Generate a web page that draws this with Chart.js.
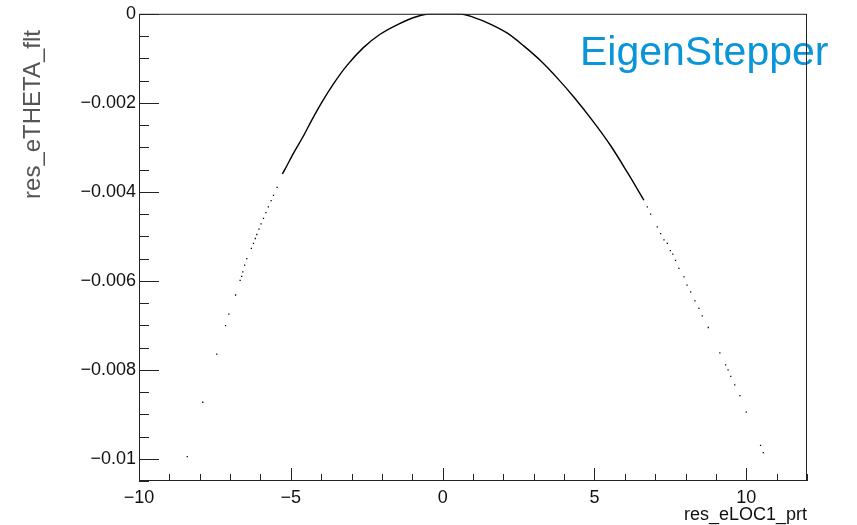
<!DOCTYPE html>
<html>
<head>
<meta charset="utf-8">
<script src="https://cdn.jsdelivr.net/npm/chart.js@4.4.1/dist/chart.umd.min.js"></script>
<style>
  body { margin: 0; background: #fff; }
  canvas { display: block; }
</style>
</head>
<body>
<canvas id="plot" width="857" height="525"></canvas>
<script>
// Continuous part of the band
const curveX = [-5.28, -5.19, -4.91, -4.58, -4.31, -3.98, -3.59, -3.15, -2.61, -2.06, -1.45, -0.84, -0.41,
  0.10, 0.55, 1.02, 1.57, 2.12, 2.67, 3.22, 3.77, 4.32, 4.98, 5.53, 6.08, 6.63];
const curveY = [-0.0036, -0.00349, -0.00313, -0.00274, -0.00239, -0.00199, -0.00157, -0.00116, -0.00076,
  -0.00046, -0.00023, -0.00006, 0, 0, 0, -0.00008, -0.00023, -0.00043, -0.00072, -0.00105, -0.00144,
  -0.00187, -0.00244, -0.00296, -0.00356, -0.00419];

// Isolated points out in the tails
const dotsX = [-8.41, -7.90, -7.44, -7.15, -7.04, -6.82, -6.67, -6.62, -6.58, -6.52, -6.45, -6.30, -6.23,
  -6.17, -6.12, -6.05, -5.98, -5.90, -5.82, -5.74, -5.65, -5.57, -5.45,
  6.74, 6.85, 7.07, 7.18, 7.29, 7.40, 7.50, 7.58, 7.67, 7.78, 7.95, 8.05, 8.17, 8.31, 8.44, 8.55, 8.75,
  9.13, 9.32, 9.40, 9.49, 9.62, 9.79, 10.00, 10.47, 10.56];
const dotsY = [-0.00995, -0.00873, -0.00765, -0.00701, -0.00675, -0.00632, -0.00599, -0.0059, -0.0058,
  -0.00565, -0.0055, -0.00527, -0.00516, -0.00505, -0.00496, -0.00484, -0.00472, -0.0046, -0.00447,
  -0.00434, -0.0042, -0.00408, -0.0039,
  -0.00434, -0.0045, -0.00479, -0.00494, -0.00508, -0.00516, -0.00532, -0.0054, -0.00554, -0.00572,
  -0.00591, -0.0061, -0.00625, -0.00645, -0.00662, -0.00679, -0.00705, -0.00762, -0.00789, -0.008,
  -0.00815, -0.00834, -0.00858, -0.00895, -0.0097, -0.00986];

// Axis ticks
const xMajor = [-10, -5, 0, 5, 10];
const yMajor = [0, -0.002, -0.004, -0.006, -0.008, -0.01];
const xMinorStep = 1;
const yMinorStep = 0.0005;

const labelFont = { family: 'Liberation Sans, Arial, sans-serif', size: 18 };

// draws the ROOT style frame, inward ticks, titles and the stepper label
const rootFrame = {
  id: 'rootFrame',
  beforeDatasetsDraw(chart) {
    const ctx = chart.ctx;
    ctx.save();
    ctx.fillStyle = '#0995d8';
    ctx.font = '41px "Liberation Sans", Arial, sans-serif';
    ctx.textBaseline = 'alphabetic';
    ctx.textAlign = 'left';
    ctx.fillText('EigenStepper', 580, 65);
    ctx.restore();
  },
  afterDatasetsDraw(chart) {
    const { ctx, chartArea: a, scales: { x, y } } = chart;
    ctx.save();
    ctx.strokeStyle = '#222';
    ctx.lineWidth = 1;
    ctx.strokeRect(a.left + 0.5, a.top + 0.5, a.right - a.left - 1, a.bottom - a.top - 1);

    ctx.beginPath();
    // x ticks
    for (let v = x.min; v <= x.max + 1e-9; v += xMinorStep) {
      const px = Math.round(x.getPixelForValue(v)) + 0.5;
      const len = xMajor.includes(Math.round(v)) ? 13 : 7;
      ctx.moveTo(px, a.bottom);
      ctx.lineTo(px, a.bottom - len);
    }
    // y ticks
    for (let i = 0; i * yMinorStep <= -y.min + 1e-9; i++) {
      const v = -i * yMinorStep;
      const py = Math.round(y.getPixelForValue(v)) + 0.5;
      const len = i % 4 === 0 ? 20 : 10;
      ctx.moveTo(a.left, py);
      ctx.lineTo(a.left + len, py);
    }
    ctx.stroke();

    // axis titles
    ctx.fillStyle = '#111';
    ctx.font = '18px "Liberation Sans", Arial, sans-serif';
    ctx.textAlign = 'right';
    ctx.textBaseline = 'alphabetic';
    ctx.fillText('res_eLOC1_prt', a.right, 520);

    ctx.fillStyle = '#555';
    ctx.font = '24px "Liberation Sans", Arial, sans-serif';
    ctx.translate(40, 30);
    ctx.rotate(-Math.PI / 2);
    ctx.textAlign = 'right';
    ctx.fillText('res_eTHETA_flt', 0, 0);
    ctx.restore();
  }
};

const fmt = v => String(v).replace('-', '\u2212');

new Chart(document.getElementById('plot'), {
  type: 'scatter',
  data: {
    datasets: [
      {
        label: 'band',
        data: curveX.map((v, i) => ({ x: v, y: curveY[i] })),
        showLine: true,
        borderColor: '#000',
        borderWidth: 1.4,
        pointRadius: 0,
        cubicInterpolationMode: 'monotone'
      },
      {
        label: 'tails',
        data: dotsX.map((v, i) => ({ x: v, y: dotsY[i] })),
        backgroundColor: '#000',
        borderWidth: 0,
        pointStyle: 'rect',
        pointRadius: 0.9
      }
    ]
  },
  options: {
    responsive: false,
    animation: false,
    layout: { padding: { top: 13, right: 50, left: 0, bottom: 0 } },
    plugins: { legend: { display: false }, tooltip: { enabled: false } },
    scales: {
      x: {
        type: 'linear',
        min: -10,
        max: 12,
        grid: { display: false, drawTicks: false },
        border: { display: false },
        afterBuildTicks: s => { s.ticks = xMajor.map(v => ({ value: v })); },
        afterFit: s => { s.height = 44; },
        ticks: { font: labelFont, color: '#111', padding: 6, autoSkip: false, maxRotation: 0, callback: fmt }
      },
      y: {
        type: 'linear',
        min: -0.0105,
        max: 0,
        grid: { display: false, drawTicks: false },
        border: { display: false },
        afterBuildTicks: s => { s.ticks = yMajor.map(v => ({ value: v })); },
        afterFit: s => { s.width = 139; },
        ticks: { font: labelFont, color: '#111', padding: 3, callback: fmt }
      }
    }
  },
  plugins: [rootFrame]
});
</script>
</body>
</html>
